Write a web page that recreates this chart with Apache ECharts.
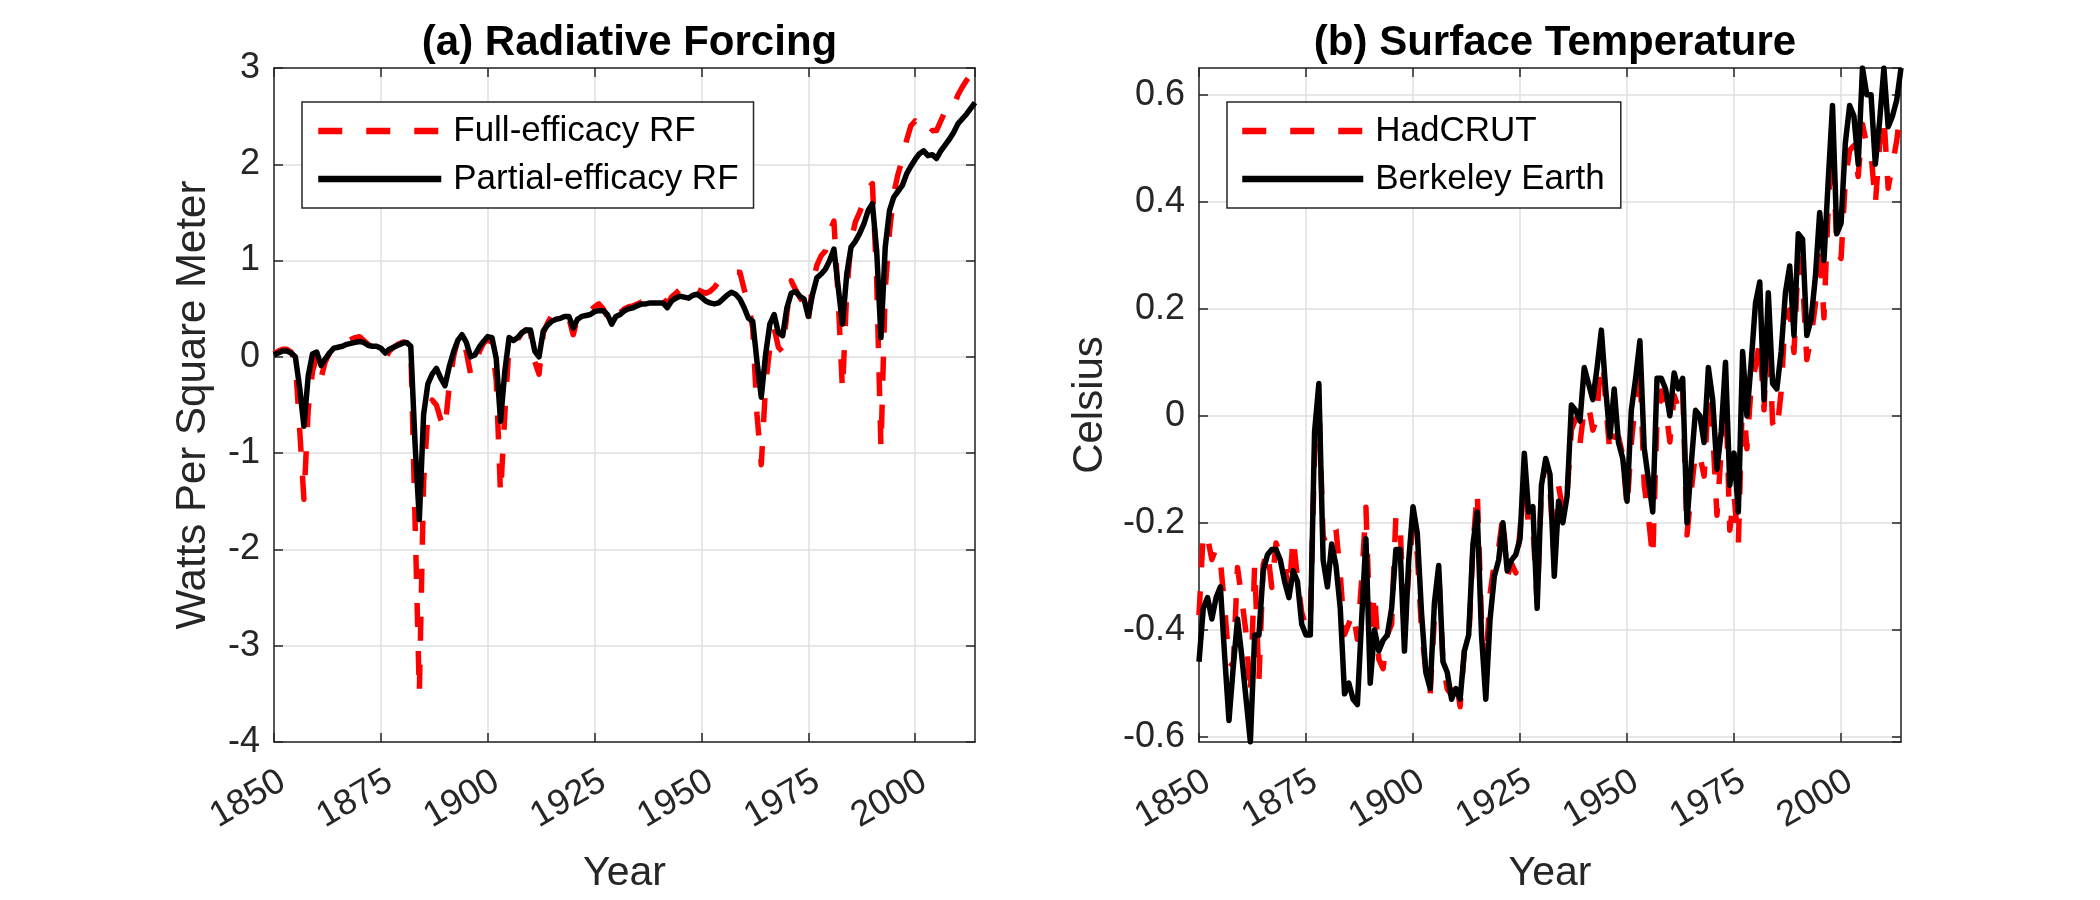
<!DOCTYPE html>
<html>
<head>
<meta charset="utf-8">
<title>Radiative Forcing / Surface Temperature</title>
<script src="https://cdn.jsdelivr.net/npm/echarts@6/dist/echarts.min.js"></script>
<style>
  html, body { margin: 0; padding: 0; background: #fff; }
  #main { width: 2100px; height: 900px; }
</style>
</head>
<body>
<div id="main"></div>
<script>
// annual values, first year is 1850, last is 2014
var startYear = 1850;

// (a) radiative forcing, W/m2
var fullRF = [
  0.03, 0.06, 0.08, 0.08, 0.05, -0.05, -0.75, -1.48, -0.55, -0.15,
  0.00, -0.22, -0.05, 0.04, 0.08, 0.11, 0.13, 0.16, 0.18, 0.20,
  0.21, 0.17, 0.13, 0.10, 0.05, 0.00, -0.02, 0.06, 0.10, 0.13,
  0.15, 0.16, 0.10, -1.70, -3.50, -1.30, -0.60, -0.45, -0.50, -0.65,
  -0.75, -0.30, 0.00, 0.18, 0.22, 0.05, -0.18, -0.15, 0.05, 0.14,
  0.18, 0.15, -0.25, -1.43, -0.60, 0.13, 0.14, 0.18, 0.25, 0.28,
  0.26, -0.05, -0.18, 0.25, 0.35, 0.43, 0.45, 0.45, 0.44, 0.40,
  0.23, 0.40, 0.44, 0.46, 0.48, 0.52, 0.55, 0.50, 0.42, 0.34,
  0.43, 0.46, 0.50, 0.52, 0.53, 0.55, 0.57, 0.58, 0.60, 0.62,
  0.63, 0.61, 0.55, 0.62, 0.66, 0.70, 0.74, 0.77, 0.74, 0.70,
  0.68, 0.66, 0.68, 0.72, 0.78, 0.82, 0.86, 0.88, 0.88, 0.88,
  0.70, 0.55, 0.30, -0.60, -1.12, -0.30, 0.10, 0.30, 0.10, 0.05,
  0.45, 0.79, 0.70, 0.62, 0.55, 0.37, 0.75, 0.95, 1.05, 1.10,
  1.30, 1.41, 0.60, -0.35, 0.68, 1.20, 1.40, 1.50, 1.62, 1.75,
  1.80, 0.80, -0.95, 0.70, 1.30, 1.70, 1.90, 2.05, 2.25, 2.40,
  2.45, 2.40, 2.38, 2.30, 2.35, 2.35, 2.45, 2.55, 2.62, 2.60,
  2.72, 2.80, 2.87, 2.93, 3.00
];
var partialRF = [
  0.02, 0.04, 0.06, 0.06, 0.04, 0.00, -0.32, -0.72, -0.20, 0.03,
  0.05, -0.09, -0.02, 0.04, 0.09, 0.10, 0.11, 0.13, 0.14, 0.15,
  0.16, 0.15, 0.12, 0.11, 0.11, 0.09, 0.04, 0.08, 0.10, 0.12,
  0.14, 0.15, 0.11, -0.90, -1.69, -0.60, -0.28, -0.18, -0.12, -0.22,
  -0.30, -0.10, 0.05, 0.17, 0.23, 0.15, 0.00, 0.02, 0.10, 0.16,
  0.21, 0.20, -0.02, -0.67, -0.15, 0.20, 0.17, 0.20, 0.25, 0.28,
  0.28, 0.06, 0.00, 0.27, 0.33, 0.37, 0.39, 0.40, 0.42, 0.42,
  0.30, 0.39, 0.42, 0.43, 0.44, 0.47, 0.48, 0.48, 0.44, 0.34,
  0.42, 0.44, 0.48, 0.50, 0.51, 0.53, 0.55, 0.55, 0.56, 0.56,
  0.56, 0.56, 0.51, 0.58, 0.61, 0.63, 0.62, 0.61, 0.64, 0.65,
  0.62, 0.58, 0.56, 0.55, 0.56, 0.60, 0.64, 0.67, 0.65, 0.60,
  0.51, 0.40, 0.37, -0.05, -0.42, 0.02, 0.34, 0.44, 0.25, 0.22,
  0.51, 0.66, 0.68, 0.63, 0.60, 0.42, 0.65, 0.82, 0.86, 0.91,
  1.00, 1.12, 0.72, 0.34, 0.86, 1.14, 1.20, 1.28, 1.38, 1.52,
  1.59, 1.10, 0.20, 1.14, 1.52, 1.66, 1.72, 1.78, 1.90, 1.98,
  2.05, 2.11, 2.14, 2.09, 2.10, 2.06, 2.14, 2.20, 2.26, 2.33,
  2.42, 2.47, 2.52, 2.58, 2.64
];

// (b) surface temperature anomaly, Celsius
var hadcrut = [
  -0.373, -0.218, -0.228, -0.269, -0.248, -0.272, -0.358, -0.461, -0.467, -0.284,
  -0.343, -0.407, -0.524, -0.278, -0.494, -0.279, -0.251, -0.321, -0.238, -0.262,
  -0.276, -0.335, -0.227, -0.304, -0.368, -0.395, -0.384, -0.075, 0.035, -0.230,
  -0.227, -0.200, -0.213, -0.296, -0.409, -0.389, -0.367, -0.418, -0.307, -0.171,
  -0.416, -0.330, -0.455, -0.473, -0.410, -0.390, -0.186, -0.206, -0.412, -0.289,
  -0.203, -0.259, -0.402, -0.479, -0.520, -0.377, -0.283, -0.465, -0.511, -0.522,
  -0.490, -0.544, -0.437, -0.424, -0.244, -0.141, -0.383, -0.468, -0.333, -0.275,
  -0.247, -0.187, -0.302, -0.276, -0.294, -0.215, -0.108, -0.210, -0.206, -0.350,
  -0.137, -0.087, -0.137, -0.273, -0.131, -0.178, -0.147, -0.026, -0.006, -0.052,
  0.014, 0.020, -0.027, -0.004, 0.144, 0.025, -0.071, -0.038, -0.039, -0.074,
  -0.173, -0.052, 0.028, 0.097, -0.129, -0.190, -0.267, -0.007, 0.046, 0.017,
  -0.049, 0.038, 0.014, 0.048, -0.223, -0.140, -0.068, -0.074, -0.113, 0.032,
  -0.027, -0.186, -0.065, 0.062, -0.214, -0.149, -0.241, 0.047, -0.062, 0.057,
  0.092, 0.140, 0.011, 0.194, -0.014, -0.030, 0.045, 0.192, 0.198, 0.118,
  0.296, 0.254, 0.105, 0.148, 0.208, 0.325, 0.183, 0.390, 0.539, 0.306,
  0.294, 0.441, 0.496, 0.505, 0.447, 0.545, 0.506, 0.491, 0.395, 0.506,
  0.560, 0.425, 0.470, 0.514, 0.579
];
var berkeley = [
  -0.46, -0.36, -0.34, -0.38, -0.34, -0.32, -0.45, -0.57, -0.47, -0.38,
  -0.45, -0.53, -0.61, -0.41, -0.41, -0.29, -0.26, -0.25, -0.25, -0.27,
  -0.31, -0.34, -0.29, -0.31, -0.39, -0.41, -0.41, -0.03, 0.06, -0.27,
  -0.32, -0.24, -0.28, -0.36, -0.52, -0.50, -0.53, -0.54, -0.38, -0.23,
  -0.50, -0.40, -0.44, -0.42, -0.41, -0.36, -0.25, -0.25, -0.44, -0.27,
  -0.17, -0.22, -0.37, -0.48, -0.51, -0.35, -0.28, -0.46, -0.48, -0.53,
  -0.51, -0.53, -0.44, -0.41, -0.24, -0.18, -0.41, -0.53, -0.38, -0.30,
  -0.27, -0.20, -0.29, -0.27, -0.26, -0.23, -0.07, -0.18, -0.17, -0.36,
  -0.13, -0.08, -0.11, -0.30, -0.16, -0.20, -0.15, 0.02, 0.01, -0.01,
  0.09, 0.06, 0.03, 0.09, 0.16, 0.05, -0.04, 0.05, -0.05, -0.08,
  -0.16, 0.01, 0.07, 0.14, -0.06, -0.12, -0.18, 0.07, 0.07, 0.05,
  0.00, 0.08, 0.05, 0.07, -0.20, -0.09, 0.01, 0.00, -0.05, 0.09,
  0.03, -0.10, -0.03, 0.10, -0.13, -0.07, -0.18, 0.12, 0.00, 0.10,
  0.21, 0.25, 0.03, 0.23, 0.06, 0.05, 0.12, 0.23, 0.28, 0.15,
  0.34, 0.33, 0.15, 0.18, 0.26, 0.38, 0.29, 0.44, 0.58, 0.34,
  0.36, 0.51, 0.58, 0.56, 0.47, 0.65, 0.60, 0.60, 0.47, 0.55,
  0.65, 0.54, 0.56, 0.59, 0.65
];

var font = 'Liberation Sans';
var axisColor = '#262626';
var gridColor = '#dfdfdf';

function pairs(values) {
  return values.map(function (v, i) { return [startYear + i, v]; });
}

// main axes carry labels and grid lines, the twin axes only close the box
function xMain(grid) {
  return {
    gridIndex: grid, type: 'value', position: 'bottom',
    min: 1850, max: 2014, interval: 25,
    name: 'Year', nameLocation: 'middle', nameGap: 111,
    nameTextStyle: { fontFamily: font, fontSize: 41, color: axisColor },
    axisLine: { show: true, onZero: false, lineStyle: { color: axisColor, width: 1.5 } },
    axisTick: { show: true, inside: true, length: 9, lineStyle: { color: axisColor, width: 1.5 } },
    axisLabel: { rotate: 30, margin: 42, fontFamily: font, fontSize: 36, color: axisColor,
                 showMaxLabel: false, padding: [0, -10, 0, 0],
                 formatter: function (v) { return String(v); } },
    splitLine: { show: true, lineStyle: { color: gridColor, width: 1.5 } }
  };
}
function xTwin(grid) {
  return {
    gridIndex: grid, type: 'value', position: 'top',
    min: 1850, max: 2014, interval: 25,
    axisLine: { show: true, onZero: false, lineStyle: { color: axisColor, width: 1.5 } },
    axisTick: { show: true, inside: true, length: 9, lineStyle: { color: axisColor, width: 1.5 } },
    axisLabel: { show: false },
    splitLine: { show: false }
  };
}
function yAxisPair(grid, lo, hi, name, gap, extra) {
  var main = {
    gridIndex: grid, type: 'value', position: 'left', min: lo, max: hi,
    name: name, nameLocation: 'middle', nameGap: gap,
    nameTextStyle: { fontFamily: font, fontSize: 42, color: axisColor },
    axisLine: { show: true, onZero: false, lineStyle: { color: axisColor, width: 1.5 } },
    axisTick: { show: true, inside: true, length: 9, lineStyle: { color: axisColor, width: 1.5 } },
    axisLabel: { margin: 14, fontFamily: font, fontSize: 36, color: axisColor,
                 showMinLabel: extra.showEnds, showMaxLabel: extra.showEnds },
    splitLine: { show: true, lineStyle: { color: gridColor, width: 1.5 } }
  };
  var twin = {
    gridIndex: grid, type: 'value', position: 'right', min: lo, max: hi,
    axisLine: { show: true, onZero: false, lineStyle: { color: axisColor, width: 1.5 } },
    axisTick: { show: true, inside: true, length: 9, lineStyle: { color: axisColor, width: 1.5 } },
    axisLabel: { show: false },
    splitLine: { show: false }
  };
  if (extra.interval) { main.interval = extra.interval; twin.interval = extra.interval; }
  if (extra.splitNumber) { main.splitNumber = extra.splitNumber; twin.splitNumber = extra.splitNumber; }
  return [main, twin];
}

function legendBox(left, names, iconWidth, pad) {
  return {
    left: left, top: 102, orient: 'vertical', data: names,
    itemWidth: iconWidth, itemHeight: 40, itemGap: 8,
    padding: pad, borderColor: axisColor, borderWidth: 1.5, backgroundColor: '#fff',
    selectedMode: false,
    itemStyle: { opacity: 0 },   // hide the marker, keep only the line sample
    lineStyle: { width: 6.5 },
    textStyle: { fontFamily: font, fontSize: 35, lineHeight: 40, color: '#000', padding: [0, 0, 0, 7] }
  };
}

function dashed(name, axis, values) {
  return {
    name: name, type: 'line', xAxisIndex: axis, yAxisIndex: axis, data: pairs(values),
    symbol: 'none', z: 2,
    itemStyle: { color: '#ff0000' },
    lineStyle: { color: '#ff0000', width: 5.5, type: [24, 24], cap: 'butt', join: 'round' }
  };
}
function solid(name, axis, values) {
  return {
    name: name, type: 'line', xAxisIndex: axis, yAxisIndex: axis, data: pairs(values),
    symbol: 'none', z: 3,
    itemStyle: { color: '#000000' },
    lineStyle: { color: '#000000', width: 5.5, type: 'solid', join: 'round' }
  };
}

var yA = yAxisPair(0, -4, 3, 'Watts Per Square Meter', 60, { interval: 1, showEnds: true });
var yB = yAxisPair(1, -0.61, 0.65, 'Celsius', 88, { splitNumber: 6, showEnds: false });

var chart = echarts.init(document.getElementById('main'), null, { renderer: 'canvas' });
var option = {
  animation: false,
  backgroundColor: '#ffffff',
  title: [
    { text: '(a) Radiative Forcing', left: 624.5, top: 17, textAlign: 'center',
      textStyle: { fontFamily: font, fontSize: 42, fontWeight: 'bold', color: '#000' } },
    { text: '(b) Surface Temperature', left: 1550, top: 17, textAlign: 'center',
      textStyle: { fontFamily: font, fontSize: 42, fontWeight: 'bold', color: '#000' } }
  ],
  legend: [
    legendBox(302, ['Full-efficacy RF', 'Partial-efficacy RF'], 123, [9, 15, 9, 13]),
    legendBox(1227, ['HadCRUT', 'Berkeley Earth'], 121, [9, 16, 9, 12])
  ],
  grid: [
    { left: 274, top: 68, width: 701, height: 674 },
    { left: 1199, top: 68, width: 702, height: 674 }
  ],
  xAxis: [xMain(0), xTwin(0), xMain(1), xTwin(1)],
  yAxis: [yA[0], yA[1], yB[0], yB[1]],
  series: [
    dashed('Full-efficacy RF', 0, fullRF),
    solid('Partial-efficacy RF', 0, partialRF),
    dashed('HadCRUT', 2, hadcrut),
    solid('Berkeley Earth', 2, berkeley)
  ]
};
// second grid uses axis indices 2 (bottom / left), 3 (top / right)
option.xAxis[2].gridIndex = 1; option.xAxis[3].gridIndex = 1;
chart.setOption(option);
</script>
</body>
</html>
